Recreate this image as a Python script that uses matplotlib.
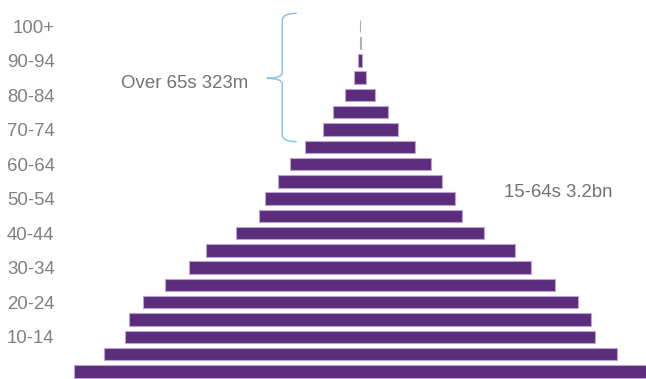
"""Population pyramid by five-year age group (millions), centred bars."""

import matplotlib.pyplot as plt
from matplotlib.path import Path
from matplotlib.patches import PathPatch

plt.rcParams["font.family"] = ["Liberation Sans", "DejaVu Sans"]

# age groups, youngest first
age_groups = ["0-4", "5-9", "10-14", "15-19", "20-24", "25-29", "30-34",
              "35-39", "40-44", "45-49", "50-54", "55-59", "60-64", "65-69",
              "70-74", "75-79", "80-84", "85-89", "90-94", "95-99", "100+"]
# population in millions
population = [643, 576, 528, 519, 489, 438, 384, 347, 279, 228, 213, 184,
              158, 123, 84, 62, 34, 14, 4, 1.0, 0.3]
# only every other group is labelled
shown_labels = ["10-14", "20-24", "30-34", "40-44", "50-54", "60-64",
                "70-74", "80-84", "90-94", "100+"]

over65_text = "Over 65s 323m"
working_text = "15-64s 3.2bn"

BAR = "#5c2d7c"
EDGE = "#b9a5cd"
GREY = "#808080"
BRACE = "#8cc4e8"
FS = 13.4
CAP = 0.716 * FS / 2  # half the digit height, in points

W, H = 646, 379
fig = plt.figure(figsize=(W / 100, H / 100), dpi=100)
ax = fig.add_axes([0, 0, 1, 1])

pos = list(range(len(age_groups)))
lefts = [-v / 2 for v in population]
ax.barh(pos, population, left=lefts, height=0.72, color=BAR,
        edgecolor=EDGE, linewidth=0.8)

ax.set_xlim(-404.7, 321.1)
ax.set_ylim(-0.446, 21.5)
ax.axis("off")

# age labels on the left, digits centred on the bar
for i, g in enumerate(age_groups):
    if g in shown_labels:
        ax.annotate(g, xy=(0.0844, i), xycoords=ax.get_yaxis_transform(),
                    xytext=(0, -CAP), textcoords="offset points",
                    ha="right", va="baseline", fontsize=FS, color=GREY)

# annotations (figure fractions, y measured from top)
ax.annotate(over65_text, xy=(185 / W, 1 - 81 / H), xycoords="figure fraction",
            xytext=(0, -CAP), textcoords="offset points",
            ha="center", va="baseline", fontsize=FS, color="#737373")
ax.annotate(working_text, xy=(558.7 / W, 1 - 190 / H), xycoords="figure fraction",
            xytext=(0, -CAP), textcoords="offset points",
            ha="center", va="baseline", fontsize=FS, color="#737373")

# curly brace around the over-65 groups
def px(x, y):
    return (x / W, 1 - y / H)

xv, xe, xt = 282.3, 296.7, 266.7
yt, ym, yb = 13.3, 78.3, 141.7
verts = [px(xe, yt), px(xv, yt), px(xv, yt + 7),
         px(xv, ym - 6), px(xv, ym), px(xt, ym),
         px(xv, ym), px(xv, ym + 6),
         px(xv, yb - 7), px(xv, yb), px(xe, yb)]
codes = [Path.MOVETO, Path.CURVE3, Path.CURVE3,
         Path.LINETO, Path.CURVE3, Path.CURVE3,
         Path.CURVE3, Path.CURVE3,
         Path.LINETO, Path.CURVE3, Path.CURVE3]
brace = PathPatch(Path(verts, codes), transform=fig.transFigure,
                  facecolor="none", edgecolor=BRACE, linewidth=1.1)
fig.patches.append(brace)

fig.savefig("out.png", dpi=100)
